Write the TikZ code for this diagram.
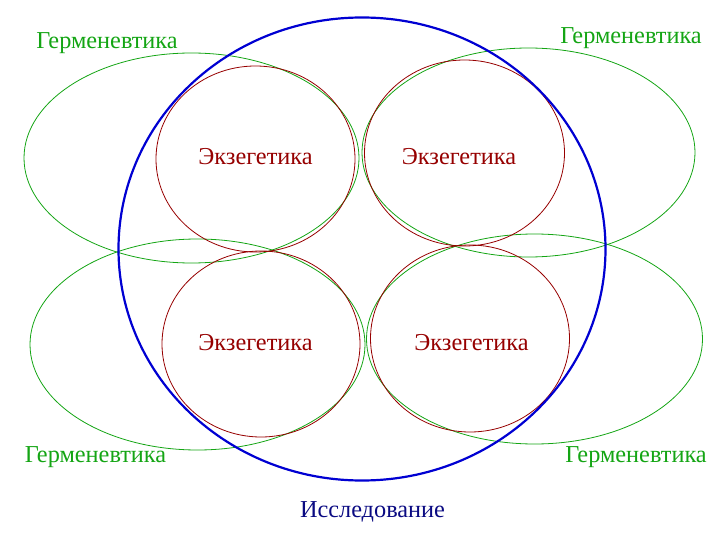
\documentclass[tikz,border=0pt]{standalone}
\usepackage{fontspec}
\setmainfont{Liberation Serif}
\definecolor{hgreen}{RGB}{20,165,20}
\definecolor{exred}{RGB}{150,0,0}
\definecolor{iblue}{RGB}{0,0,210}
\definecolor{navy}{RGB}{10,10,130}
\tikzset{
  herm/.style={draw=hgreen, line width=0.8pt},
  exeg/.style={draw=exred, line width=0.8pt},
  lfont/.style={font=\fontsize{24.3}{28}\selectfont, inner sep=0pt},
  hlab/.style={lfont, text=hgreen},
  elab/.style={lfont, text=exred},
}
\begin{document}
\begin{tikzpicture}[x=1pt,y=-1pt]
\useasboundingbox (0,0) rectangle (720,540);
% green ellipses
\draw[herm] (191.5,158) ellipse [x radius=167.5, y radius=105];
\draw[herm] (528.5,152.5) ellipse [x radius=166.5, y radius=104.5];
\draw[herm] (197.5,344.5) ellipse [x radius=167.5, y radius=105.5];
\draw[herm] (534.5,339) ellipse [x radius=168, y radius=105];
% red ellipses
\draw[exeg] (255.5,159) ellipse [x radius=99.5, y radius=93];
\draw[exeg] (464.5,153) ellipse [x radius=100, y radius=93];
\draw[exeg] (261,344) ellipse [x radius=99, y radius=93];
\draw[exeg] (470,338.5) ellipse [x radius=99.5, y radius=93.5];
% blue
\draw[draw=iblue, line width=2.2pt] (362,249) ellipse [x radius=243.5, y radius=231.5];
% labels
\node[hlab] (h1) at (107,43) {Герменевтика};
\node[hlab] (h2) at (631,38) {Герменевтика};
\node[hlab] (h3) at (95.5,457) {Герменевтика};
\node[hlab] (h4) at (636,457) {Герменевтика};
\node[elab] (e1) at (255.5,157) {Экзегетика};
\node[elab] (e2) at (459,157) {Экзегетика};
\node[elab] (e3) at (255.5,343) {Экзегетика};
\node[elab] (e4) at (471.5,343) {Экзегетика};
\node[lfont, text=navy] (r) at (372.5,512) {Исследование};
\end{tikzpicture}
\end{document}
